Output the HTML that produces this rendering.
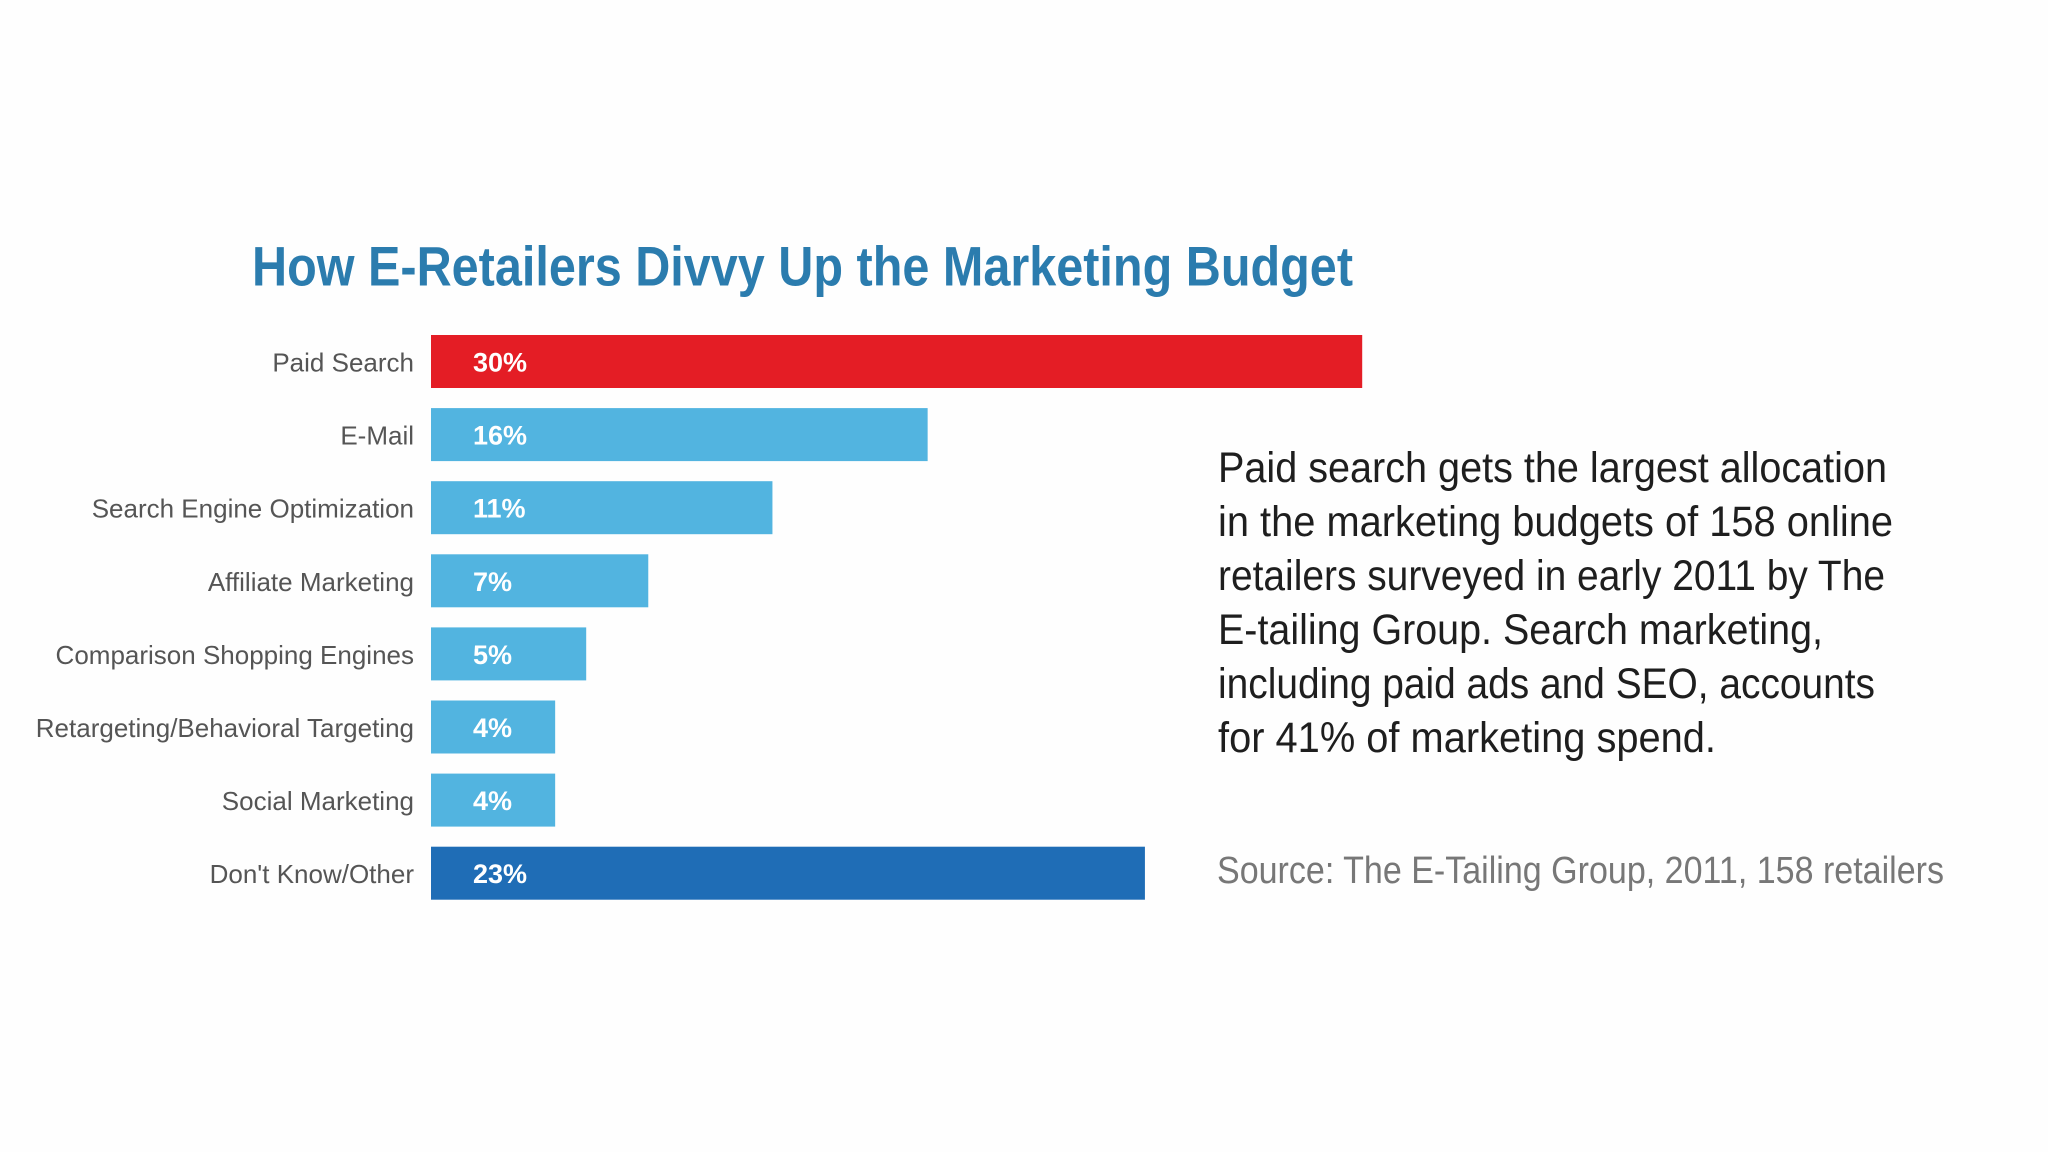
<!DOCTYPE html>
<html><head><meta charset="utf-8"><style>
html,body{margin:0;padding:0;background:#fff;}
svg{display:block;}
text{font-family:"Liberation Sans Narrow","Liberation Sans",sans-serif;}
</style></head><body>
<svg id="chart" width="2048" height="1152" viewBox="0 0 2048 1152">
<rect x="0" y="0" width="2048" height="1152" fill="#fefefe"/>
<text x="252" y="266" dominant-baseline="central" font-size="56" font-weight="bold" fill="#2b7cae" textLength="1101" lengthAdjust="spacingAndGlyphs">How E-Retailers Divvy Up the Marketing Budget</text>
<g id="bars"></g>
<g font-size="43" fill="#1e1e1e">
<text x="1218" y="468" dominant-baseline="central" textLength="669" lengthAdjust="spacingAndGlyphs">Paid search gets the largest allocation</text>
<text x="1218" y="522" dominant-baseline="central" textLength="675" lengthAdjust="spacingAndGlyphs">in the marketing budgets of 158 online</text>
<text x="1218" y="576" dominant-baseline="central" textLength="667" lengthAdjust="spacingAndGlyphs">retailers surveyed in early 2011 by The</text>
<text x="1218" y="630" dominant-baseline="central" textLength="605" lengthAdjust="spacingAndGlyphs">E-tailing Group. Search marketing,</text>
<text x="1218" y="684" dominant-baseline="central" textLength="657" lengthAdjust="spacingAndGlyphs">including paid ads and SEO, accounts</text>
<text x="1218" y="738" dominant-baseline="central" textLength="498" lengthAdjust="spacingAndGlyphs">for 41% of marketing spend.</text>
</g>
<text x="1217" y="871" dominant-baseline="central" font-size="38" fill="#777" textLength="727" lengthAdjust="spacingAndGlyphs">Source: The E-Tailing Group, 2011,  158 retailers</text>
</svg>
<script>
const categories = ["Paid Search","E-Mail","Search Engine Optimization","Affiliate Marketing","Comparison Shopping Engines","Retargeting/Behavioral Targeting","Social Marketing","Don't Know/Other"];
const values = [30,16,11,7,5,4,4,23];
const valueLabels = ["30%","16%","11%","7%","5%","4%","4%","23%"];
const colors = ["#e41d25","#52b4e0","#52b4e0","#52b4e0","#52b4e0","#52b4e0","#52b4e0","#1f6db6"];

const NS = "http://www.w3.org/2000/svg";
const x0 = 431, pxPer = 31.04;
const y0 = 361.5, pitch = 73.1, barH = 53;
function xScale(v){ return x0 + v*pxPer; }
function yScale(i){ return y0 + i*pitch; }
const g = document.getElementById('bars');
categories.forEach((c,i)=>{
  const cy = yScale(i);
  const r = document.createElementNS(NS,'rect');
  r.setAttribute('x', x0);
  r.setAttribute('y', cy - barH/2);
  r.setAttribute('width', xScale(values[i]) - x0);
  r.setAttribute('height', barH);
  r.setAttribute('fill', colors[i]);
  
  
  g.appendChild(r);
  const l = document.createElementNS(NS,'text');
  l.setAttribute('x', 414);
  l.setAttribute('y', cy + 1);
  l.setAttribute('text-anchor','end');
  l.setAttribute('dominant-baseline','central');
  l.setAttribute('font-size', '26');
  l.setAttribute('fill', '#555');
  l.textContent = c;
  
  
  g.appendChild(l);
  const v = document.createElementNS(NS,'text');
  v.setAttribute('x', 473);
  v.setAttribute('y', cy + 1);
  v.setAttribute('dominant-baseline','central');
  v.setAttribute('font-size', '27');
  v.setAttribute('font-weight', 'bold');
  v.setAttribute('fill', '#fff');
  v.textContent = valueLabels[i];
  
  
  g.appendChild(v);
});
</script>
</body></html>
